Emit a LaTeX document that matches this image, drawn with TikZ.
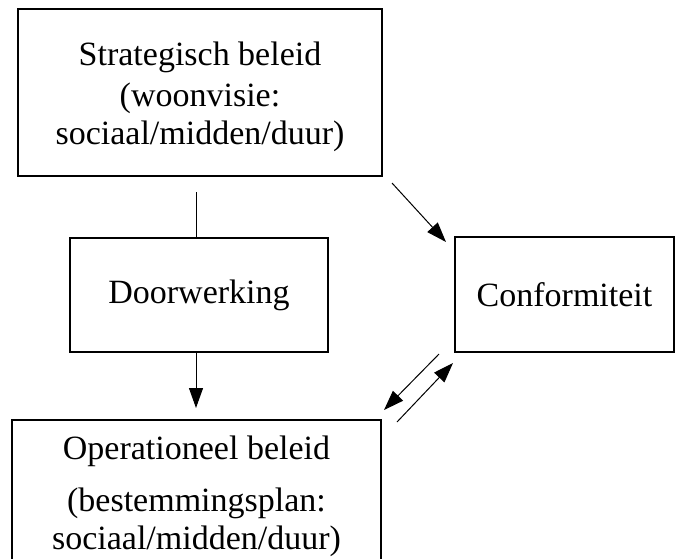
\documentclass[tikz,border=0pt]{standalone}
\usepackage{fontspec}
\setmainfont{Liberation Serif}
\usetikzlibrary{arrows.meta}

\tikzset{
  vak/.style={draw, line width=2pt, align=center, inner sep=0pt,
    font=\fontsize{34}{38}\selectfont},
  lijn/.style={line width=1pt},
  pijl/.style={line width=1pt, -{Triangle[length=20pt,width=14pt]}}
}

\begin{document}
\begin{tikzpicture}[x=1pt,y=-1pt]
\useasboundingbox (0,0) rectangle (676,558);
\clip (0,0) rectangle (676,558);
% vakken
\node[vak, minimum width=364pt, minimum height=167pt, text height=112pt] (strat) at (200,92.5)
  {Strategisch beleid\\[3pt] (woonvisie:\\ sociaal/midden/duur)};
\node[vak, minimum width=258pt, minimum height=114pt] (door) at (199,295) {Doorwerking};
\node[vak, minimum width=219pt, minimum height=115pt] (conf) at (564.5,294.5) {Conformiteit};
\node[vak, minimum width=369pt, minimum height=152pt] (oper) at (196.5,496)
  {Operationeel beleid\\[14pt] (bestemmingsplan:\\ sociaal/midden/duur)};
% verbindingen
\coordinate (s1) at (196,192);
\coordinate (d1) at (196,408);
\coordinate (a1) at (392,183);
\coordinate (a2) at (446,242);
\coordinate (b1) at (439,354);
\coordinate (b2) at (384,410);
\coordinate (c1) at (397,422);
\coordinate (c2) at (453,363);
\draw[lijn] (s1) -- (s1 |- door.north);
\draw[pijl] (d1 |- door.south) -- (d1);
\draw[pijl] (a1) -- (a2);
\draw[pijl] (b1) -- (b2);
\draw[pijl] (c1) -- (c2);
\end{tikzpicture}
\end{document}
